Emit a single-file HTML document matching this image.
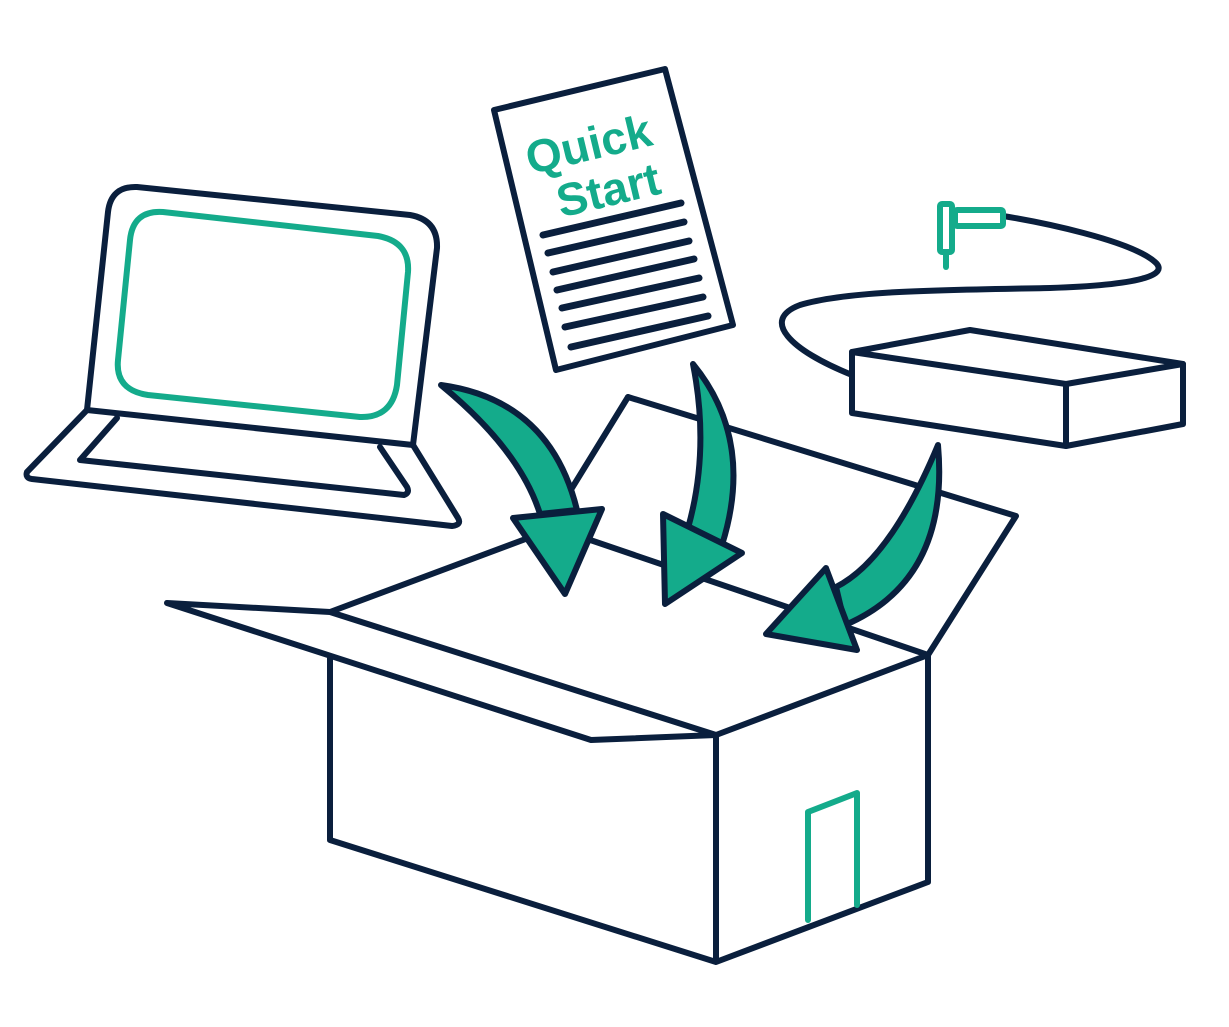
<!DOCTYPE html>
<html><head><meta charset="utf-8"><style>html,body{margin:0;padding:0;background:#fff}svg{display:block}</style></head>
<body>
<svg width="1229" height="1027" viewBox="0 0 1229 1027" xmlns="http://www.w3.org/2000/svg">
<g fill="none" stroke="#0a1f3d" stroke-width="6" stroke-linejoin="round" stroke-linecap="round">
<!-- laptop -->
<path d="M87,410 L108,212 Q111,186 137,187 L410,215 Q438,220 437,248 L413,445 Z" fill="#fff"/>
<path d="M130,240 Q133,210 163,212 L378,236 Q410,242 408,272 L397,385 Q392,418 360,417 L148,395 Q115,390 118,360 Z" stroke="#14ab8b"/>
<path d="M87,410 L27,472 Q25,478 32,479 L452,526 Q462,525 458,518 L413,445"/>
<path d="M117,418 L80,460 L404,495 Q410,493 407,487 L380,447"/>
<!-- paper -->
<path d="M494,110 L665,69 L733,325 L556,370 Z" fill="#fff"/>
<g stroke-width="7">
<line x1="543" y1="235" x2="681" y2="203"/>
<line x1="548" y1="253" x2="684" y2="222"/>
<line x1="553" y1="272" x2="689" y2="241"/>
<line x1="557" y1="290" x2="694" y2="259"/>
<line x1="562" y1="308" x2="699" y2="278"/>
<line x1="565" y1="327" x2="703" y2="297"/>
<line x1="571" y1="347" x2="708" y2="316"/>
</g>
<!-- router -->
<path d="M852,375 C790,350 760,320 800,305 C850,290 950,290 1050,288 C1140,285 1170,275 1155,262 C1130,240 1040,222 1003,216"/>
<path d="M852,352 L970,330 L1183,364 L1066,384 Z" fill="#fff"/>
<path d="M852,352 L852,413 L1066,446 L1066,384"/>
<path d="M1066,446 L1183,424 L1183,364"/>
<g stroke="#14ab8b">
<rect x="940" y="204" width="12" height="48" rx="2"/>
<rect x="955" y="210" width="48" height="16" rx="2"/>
<line x1="946" y1="255" x2="946" y2="267"/>
</g>
<!-- box -->
<path d="M628,397 L1016,516 L928,655" fill="#fff"/>
<path d="M572,488 L628,397"/>
<path d="M330,612 L555,528 L928,655"/>
<path d="M167,603 L330,612 L716,735 L591,740 Z" fill="#fff"/>
<path d="M330,658 L330,840 L716,962 L716,735 L928,655 L928,882 L716,962"/>
<path d="M808,920 L808,812 L857,793 L857,905" stroke="#14ab8b"/>
<!-- arrows -->
<g fill="#14ab8b">
<path d="M441,385 Q550,400 577,510 L540,514 Q520,450 441,385 Z"/>
<path d="M513,518 L602,509 L565,594 Z"/>
<path d="M693,364 Q755,440 722,545 L688,528 Q710,450 693,364 Z"/>
<path d="M663,514 L742,553 L665,604 Z"/>
<path d="M938,445 Q950,580 845,625 L836,587 Q890,560 938,445 Z"/>
<path d="M826,568 L857,650 L766,634 Z"/>
</g>
</g>
<g fill="#14ab8b" font-family="'Liberation Sans', sans-serif" font-weight="bold" font-size="46" transform="rotate(-13.5 590 150)">
<text x="526" y="160">Quick</text>
<text x="546" y="209">Start</text>
</g>
</svg>
</body></html>
